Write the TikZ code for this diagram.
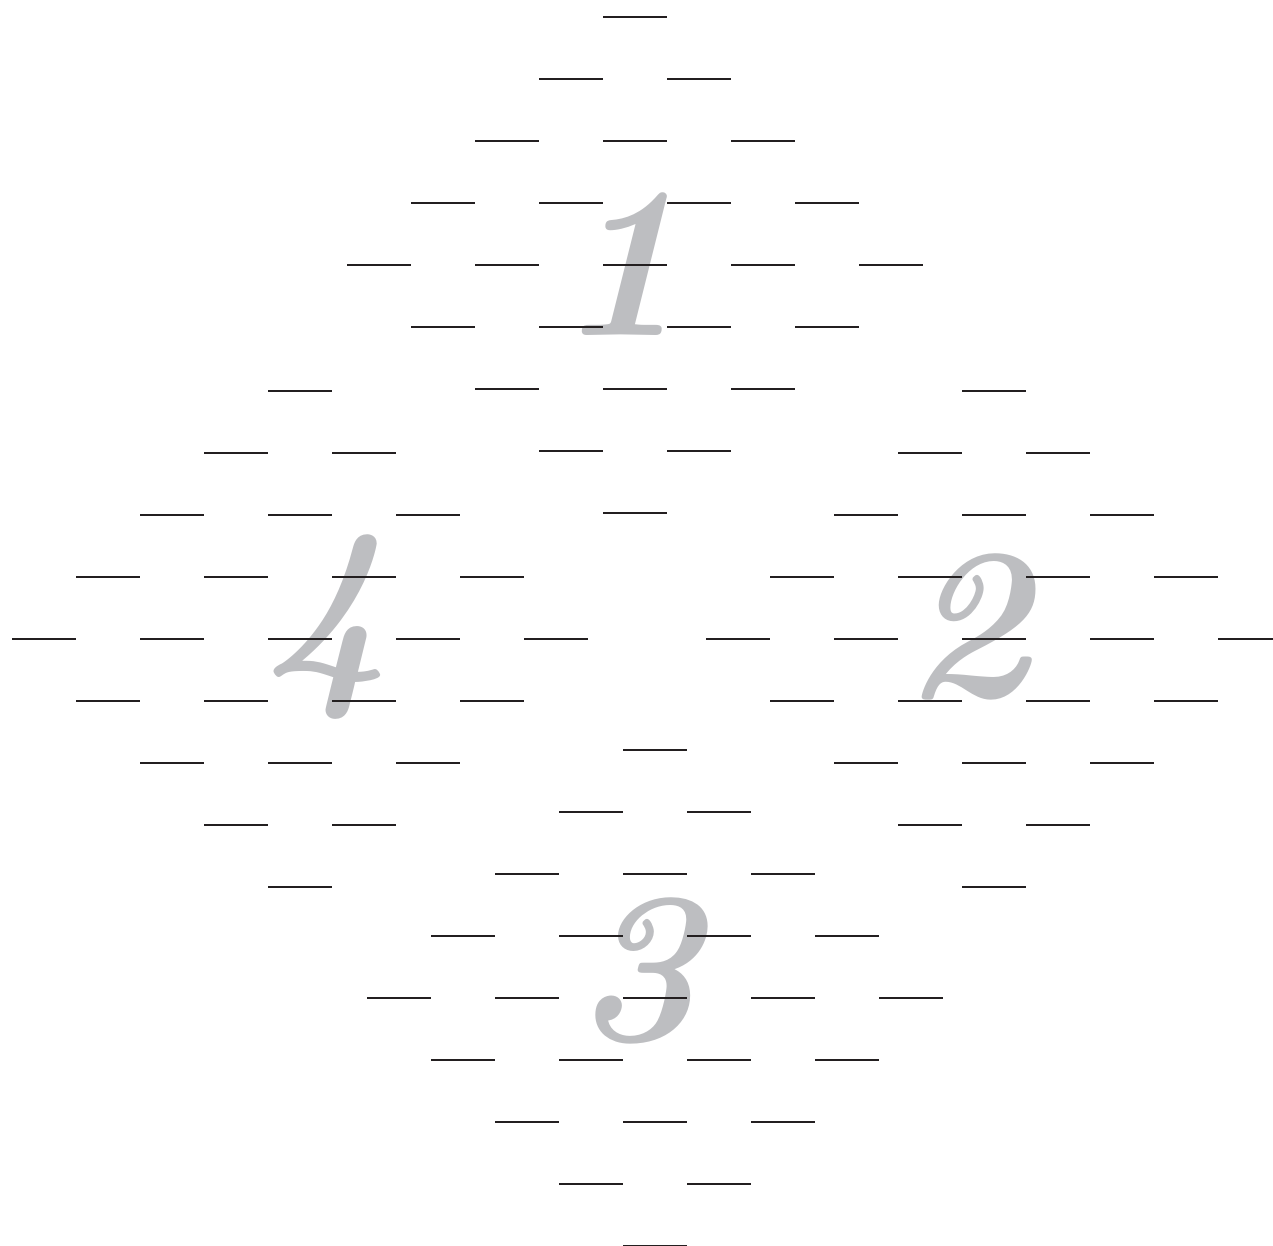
\documentclass[tikz,border=0pt]{standalone}
\usepackage{xcolor}
\definecolor{digit-gray}{HTML}{BDBEC1}
\definecolor{blank-black}{HTML}{231F20}

\tikzset{
  blank/.style={draw=blank-black, line width=1.35pt},
  digit/.style={text=digit-gray, inner sep=0pt,
                font=\fontsize{108}{108}\selectfont\bfseries\itshape}
}

% one diamond of blanks, centred at (#1,#2) in pixel units
\newcommand{\blankdiamond}[2]{%
  \foreach \r in {-4,...,4} {
    \pgfmathtruncatemacro{\n}{5-abs(\r)}
    \foreach \k in {1,...,\n} {
      \pgfmathsetmacro{\cx}{#1+(\k-(\n+1)/2)*128}
      \pgfmathsetmacro{\cy}{#2+\r*62}
      \draw[blank] (\cx-32,\cy) -- (\cx+32,\cy);
    }
  }}

\begin{document}
\begin{tikzpicture}[x=0.5pt, y=-0.5pt]
    \clip (0,0) rectangle (1273,1246);
    % gray numerals behind the blanks
    \node[digit] (one)   at (619,264)  {1};
    \node[digit] (two)   at (966,627)  {2};
    \node[digit] (three) at (636,971)  {3};
    \node[digit] (four)  at (326,627)  {4};
    % the four diamonds
    \blankdiamond{635}{265}
    \blankdiamond{994}{639}
    \blankdiamond{655}{998}
    \blankdiamond{300}{639}
  \end{tikzpicture}
\end{document}
